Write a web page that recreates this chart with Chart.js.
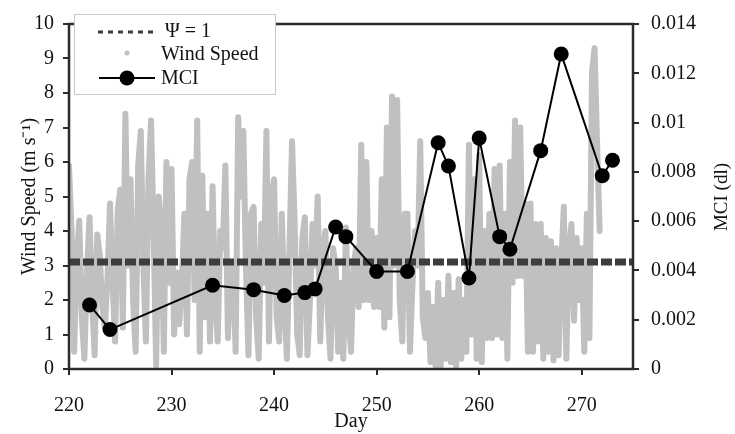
<!DOCTYPE html>
<html>
<head>
<meta charset="utf-8">
<script src="https://cdn.jsdelivr.net/npm/chart.js@4.4.1/dist/chart.umd.min.js"></script>
<style>
    html, body { margin: 0; padding: 0; background: #fff; }
</style>
</head>
<body>
<canvas id="mciChart" width="735" height="434"></canvas>
<script>
// MCI samples (day, value)
const mciDays = [222, 224, 234, 238, 241, 243, 244, 246, 247, 250, 253, 256, 257, 259, 260, 262, 263, 266, 268, 272, 273];
const mciValues = [0.0026, 0.0016, 0.0034, 0.00322, 0.00298, 0.0031, 0.00325, 0.00576, 0.00537, 0.00396, 0.00396,
    0.00918, 0.00824, 0.00369, 0.00937, 0.00537, 0.00486, 0.00886, 0.01278, 0.00784, 0.00847];

// wind speed, 4 readings per day (00, 06, 12, 18 h), starting day 220
const windStartDay = 220;
const windPerDay = 4;
const windSpeed = [
    5.9, 4.0, 0.5, 3.2,   // 220
    4.3, 1.5, 0.3, 2.8,   // 221
    4.4, 2.0, 0.4, 3.9,   // 222
    3.3, 1.8, 1.2, 2.6,   // 223
    4.8, 2.5, 0.8, 4.6,   // 224
    5.2, 1.2, 7.4, 3.0,   // 225
    5.5, 2.0, 0.5, 5.9,   // 226
    6.9, 3.0, 0.8, 5.5,   // 227
    7.2, 4.0, 0.1, 5.0,   // 228
    4.0, 0.5, 6.0, 2.5,   // 229
    5.8, 1.0, 2.8, 1.3,   // 230
    2.5, 4.5, 1.0, 5.5,   // 231
    6.0, 2.0, 7.2, 0.5,   // 232
    5.6, 1.5, 4.5, 0.8,   // 233
    5.3, 2.0, 0.8, 4.0,   // 234
    3.5, 5.9, 0.9, 3.0,   // 235
    3.0, 0.5, 7.3, 5.0,   // 236
    6.9, 3.0, 0.4, 4.5,   // 237
    4.7, 1.5, 0.3, 4.2,   // 238
    2.5, 6.9, 0.8, 5.0,   // 239
    5.5, 1.5, 0.8, 4.5,   // 240
    2.0, 0.3, 3.5, 6.6,   // 241
    4.3, 1.0, 0.4, 3.8,   // 242
    4.4, 0.4, 2.0, 4.2,   // 243
    3.0, 5.0, 0.8, 3.5,   // 244
    4.0, 1.5, 0.3, 3.5,   // 245
    3.0, 0.5, 2.5, 0.3,   // 246
    4.1, 1.5, 0.5, 3.0,   // 247
    3.5, 1.8, 6.5, 2.0,   // 248
    6.0, 2.0, 4.0, 1.8,   // 249
    3.8, 1.8, 5.5, 1.2,   // 250
    7.0, 1.5, 7.9, 3.0,   // 251
    7.8, 2.0, 0.8, 4.5,   // 252
    4.5, 0.5, 2.5, 4.0,   // 253
    3.0, 6.6, 1.5, 0.9,   // 254
    2.2, 0.2, 1.8, 0.1,   // 255
    2.5, 0.1, 2.0, 0.3,   // 256
    2.7, 0.2, 2.2, 0.1,   // 257
    2.6, 0.3, 2.0, 0.5,   // 258
    6.5, 1.0, 5.5, 0.3,   // 259
    6.2, 0.2, 4.0, 0.9,   // 260
    4.5, 0.9, 5.8, 1.0,   // 261
    5.9, 0.9, 4.5, 0.3,   // 262
    6.0, 2.5, 7.2, 2.7,   // 263
    7.0, 2.7, 4.8, 0.5,   // 264
    4.8, 0.5, 4.2, 0.8,   // 265
    4.2, 0.3, 3.8, 0.5,   // 266
    3.7, 0.25, 3.5, 0.4,  // 267
    3.0, 4.7, 0.3, 3.5,   // 268
    4.2, 1.4, 3.8, 2.0,   // 269
    3.5, 0.5, 4.5, 0.9,   // 270
    8.6, 9.3, 6.5, 4.0    // 271
];

// wind speed at which Psi = 1
const psiDays = [220, 275];
const psiLevel = [3.1, 3.1];

const xTicks = [220, 230, 240, 250, 260, 270];

const FONT = "'Liberation Serif', 'Times New Roman', serif";
const INK = '#2b2b2b';
const WIND_GRAY = '#c0c0c0';

const windPoints = windSpeed.map(function (v, i) {
    return { x: windStartDay + i / windPerDay, y: v };
});
const mciPoints = mciDays.map(function (d, i) { return { x: d, y: mciValues[i] }; });
const psiPoints = psiDays.map(function (d, i) { return { x: d, y: psiLevel[i] }; });

const decorPlugin = {
    id: 'decor',
    afterDraw: function (chart) {
        const ctx = chart.ctx;
        const a = chart.chartArea;
        ctx.save();
        // frame
        ctx.strokeStyle = INK;
        ctx.lineWidth = 2.5;
        ctx.setLineDash([]);
        ctx.strokeRect(a.left, a.top, a.right - a.left, a.bottom - a.top);

        // legend
        const lx = 74, ly = 14, lw = 201, lh = 80;
        ctx.fillStyle = '#fff';
        ctx.fillRect(lx, ly, lw, lh);
        ctx.strokeStyle = '#c8c8c8';
        ctx.lineWidth = 1;
        ctx.strokeRect(lx + 0.5, ly + 0.5, lw, lh);

        ctx.font = '20px ' + FONT;
        ctx.fillStyle = '#111';
        ctx.textBaseline = 'middle';
        ctx.textAlign = 'left';

        // psi row
        ctx.strokeStyle = '#3d3d3d';
        ctx.lineWidth = 3;
        ctx.setLineDash([5, 5]);
        ctx.beginPath();
        ctx.moveTo(98, 32);
        ctx.lineTo(154, 32);
        ctx.stroke();
        ctx.setLineDash([]);
        ctx.fillText('\u03A8 = 1', 165, 32);

        // wind row
        ctx.fillStyle = WIND_GRAY;
        ctx.beginPath();
        ctx.arc(127, 53, 2.5, 0, Math.PI * 2);
        ctx.fill();
        ctx.fillStyle = '#111';
        ctx.fillText('Wind Speed', 161, 55);

        // mci row
        ctx.strokeStyle = '#000';
        ctx.lineWidth = 2;
        ctx.beginPath();
        ctx.moveTo(99, 78);
        ctx.lineTo(155, 78);
        ctx.stroke();
        ctx.fillStyle = '#000';
        ctx.beginPath();
        ctx.arc(127, 78, 7.5, 0, Math.PI * 2);
        ctx.fill();
        ctx.fillStyle = '#111';
        ctx.fillText('MCI', 161, 79);

        // right axis title, reading bottom to top
        ctx.translate(722, 197);
        ctx.rotate(-Math.PI / 2);
        ctx.textAlign = 'center';
        ctx.font = '19px ' + FONT;
        ctx.fillText('MCI (dl)', 0, 0);
        ctx.restore();
    }
};

new Chart(document.getElementById('mciChart'), {
    type: 'line',
    data: {
        datasets: [
            {
                label: 'MCI',
                data: mciPoints,
                yAxisID: 'yMci',
                borderColor: '#000',
                backgroundColor: '#000',
                borderWidth: 2,
                pointRadius: 7.5,
                pointBorderWidth: 0,
                tension: 0,
                order: 1
            },
            {
                label: '\u03A8 = 1',
                data: psiPoints,
                yAxisID: 'yWind',
                borderColor: '#3d3d3d',
                borderWidth: 7,
                borderDash: [11, 3],
                pointRadius: 0,
                order: 2
            },
            {
                label: 'Wind Speed',
                data: windPoints,
                yAxisID: 'yWind',
                borderColor: WIND_GRAY,
                backgroundColor: WIND_GRAY,
                borderWidth: 6,
                borderJoinStyle: 'round',
                borderCapStyle: 'round',
                pointRadius: 2.5,
                pointBorderWidth: 0,
                tension: 0,
                order: 3
            }
        ]
    },
    options: {
        responsive: false,
        animation: false,
        layout: { padding: { top: 11, left: 0, right: 0, bottom: 0 } },
        plugins: {
            legend: { display: false },
            tooltip: { enabled: false }
        },
        scales: {
            x: {
                type: 'linear',
                min: 220,
                max: 275,
                afterFit: function (scale) { scale.height = 65; },
                afterBuildTicks: function (scale) {
                    scale.ticks = xTicks.map(function (v) { return { value: v }; });
                },
                ticks: { color: '#111', font: { family: FONT, size: 20 }, padding: 19 },
                grid: { drawOnChartArea: false, drawTicks: true, tickLength: 6, color: INK, lineWidth: 2 },
                border: { display: false },
                title: { display: true, text: 'Day', color: '#111', font: { family: FONT, size: 20 }, padding: { top: 0, bottom: 0 } }
            },
            yWind: {
                type: 'linear',
                position: 'left',
                min: 0,
                max: 10,
                afterFit: function (scale) { scale.width = 69; },
                ticks: { stepSize: 1, color: '#111', font: { family: FONT, size: 20 }, padding: 9 },
                grid: { drawOnChartArea: false, drawTicks: true, tickLength: 6, color: INK, lineWidth: 2 },
                border: { display: false },
                title: { display: true, text: 'Wind Speed (m s\u207B\u00B9)', color: '#111', font: { family: FONT, size: 20 }, padding: { top: 18, bottom: 0 } }
            },
            yMci: {
                type: 'linear',
                position: 'right',
                min: 0,
                max: 0.014,
                afterFit: function (scale) { scale.width = 102; },
                ticks: {
                    stepSize: 0.002,
                    color: '#111',
                    font: { family: FONT, size: 20 },
                    padding: 12,
                    callback: function (v) { return String(+v.toFixed(3)); }
                },
                grid: { drawOnChartArea: false, drawTicks: true, tickLength: 6, color: INK, lineWidth: 2 },
                border: { display: false }
            }
        }
    },
    plugins: [decorPlugin]
});
</script>
</body>
</html>
